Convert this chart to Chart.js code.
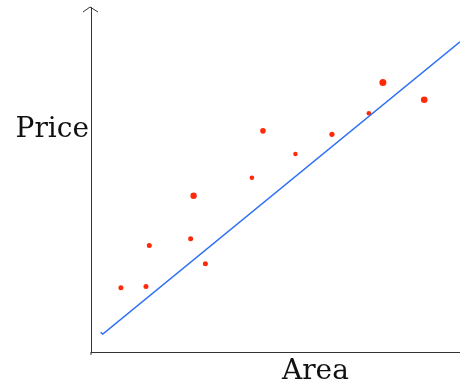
<!DOCTYPE html>
<html>
<head>
<meta charset="utf-8">
<script src="https://cdn.jsdelivr.net/npm/chart.js@4"></script>
<style>
  html, body { margin: 0; padding: 0; background: #fff; }
  #wrap { width: 460px; height: 383px; position: relative; }
</style>
</head>
<body>
<div id="wrap"><canvas id="chart"></canvas></div>
<script>
// observed houses (area, price) in arbitrary 0-100 units
const areaValues = [8.1, 14.9, 15.8, 27.0, 27.8, 31.0, 43.6, 46.6, 55.4, 65.3, 75.3, 79.1, 90.3]
const priceValues = [18.6, 19.0, 30.9, 32.8, 45.3, 25.6, 50.5, 64.1, 57.4, 63.1, 69.2, 78.1, 73.1]
const dotSizes = [2.5, 2.5, 2.5, 2.5, 3.2, 2.5, 2.3, 2.8, 2.2, 2.6, 2.3, 3.5, 3.3]

// hand drawn fit line (with the little hook at the start)
const fitArea = [2.6, 3.2, 100]
const fitPrice = [5.7, 5.2, 89.9]

const xLabel = 'Area'
const yLabel = 'Price'

const sketchLabels = {
  id: 'sketchLabels',
  afterDraw (chart) {
    const { ctx, chartArea } = chart
    ctx.save()
    // arrow head on the y axis
    ctx.strokeStyle = '#333'
    ctx.lineWidth = 1
    ctx.beginPath()
    ctx.moveTo(chartArea.left - 8, chartArea.top + 5)
    ctx.lineTo(chartArea.left - 1, chartArea.top)
    ctx.lineTo(chartArea.left + 7, chartArea.top + 5)
    ctx.stroke()
    ctx.beginPath()
    ctx.moveTo(chartArea.left, chartArea.bottom)
    ctx.lineTo(chartArea.left, chartArea.bottom + 3)
    ctx.stroke()

    ctx.fillStyle = '#111'
    ctx.font = '28px "DejaVu Serif"'
    ctx.textBaseline = 'alphabetic'
    ctx.textAlign = 'right'
    ctx.fillText(yLabel, chartArea.left - 2, 137)
    ctx.textAlign = 'left'
    ctx.fillText(xLabel, 282, 379)
    ctx.restore()
  }
}

new Chart(document.getElementById('chart'), {
  type: 'scatter',
  data: {
    datasets: [
      {
        label: 'fit',
        data: fitArea.map((a, i) => ({ x: a, y: fitPrice[i] })),
        showLine: true,
        borderColor: '#2a6ef5',
        borderWidth: 1.4,
        pointRadius: 0,
        tension: 0
      },
      {
        label: 'houses',
        data: areaValues.map((a, i) => ({ x: a, y: priceValues[i] })),
        backgroundColor: '#ff2a0a',
        borderWidth: 0,
        pointRadius: dotSizes
      }
    ]
  },
  options: {
    responsive: true,
    maintainAspectRatio: false,
    animation: false,
    layout: {
      autoPadding: false,
      padding: { left: 91, top: 7, right: 0, bottom: 31 }
    },
    scales: {
      x: {
        min: 0,
        max: 100,
        grid: { display: false, drawTicks: false },
        ticks: { display: false },
        border: { display: true, color: '#333', width: 1 }
      },
      y: {
        min: 0,
        max: 100,
        grid: { display: false, drawTicks: false },
        ticks: { display: false },
        border: { display: true, color: '#333', width: 1 }
      }
    },
    plugins: {
      legend: { display: false },
      tooltip: { enabled: false }
    }
  },
  plugins: [sketchLabels]
})
</script>
</body>
</html>
